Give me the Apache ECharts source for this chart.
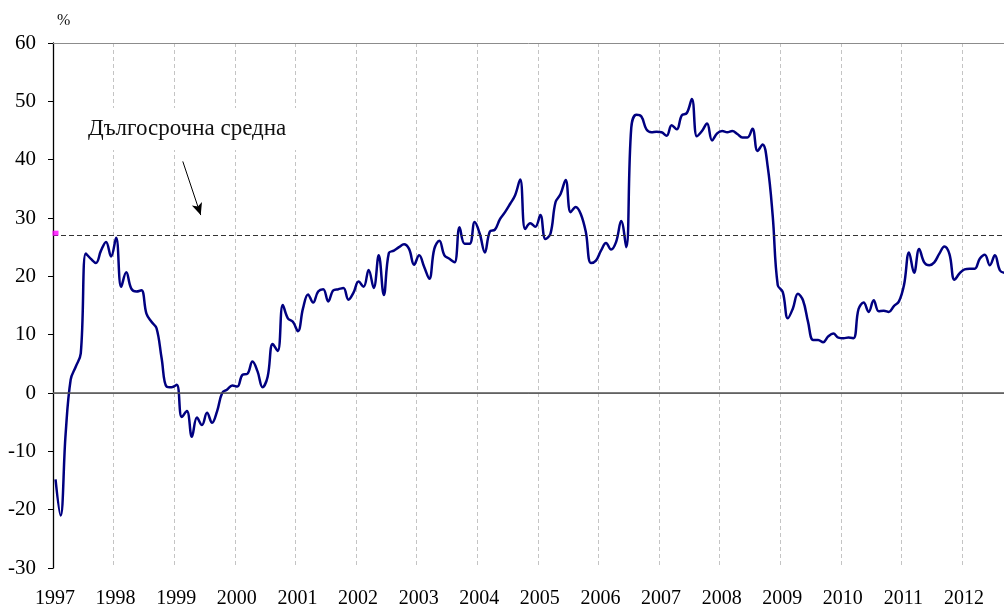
<!DOCTYPE html>
<html>
<head>
<meta charset="utf-8">
<script src="https://cdn.jsdelivr.net/npm/echarts@6/dist/echarts.min.js"></script>
<style>
html,body{margin:0;padding:0;background:#fff;}
#chart{width:1004px;height:609px;}
</style>
</head>
<body>
<div id="chart"></div>
<script>
// Year tick labels (one per January)
var yearLabels = ['1997','1998','1999','2000','2001','2002','2003','2004','2005','2006','2007','2008','2009','2010','2011','2012'];
// Monthly values from Jan 1997 onward (%)
var values = [
 -14.8,-21.0,-7.0,2.3,4.5,6.8,23.9,23.0,22.3,24.4,25.9,23.4,
 26.6,18.2,20.7,17.9,17.4,17.6,13.6,12.2,11.1,6.0,1.1,1.0,
 1.4,-4.1,-3.1,-7.5,-4.2,-5.5,-3.4,-5.1,-3.1,0.0,0.6,1.3,
 1.1,3.1,3.3,5.4,3.7,1.0,2.8,8.4,7.2,15.1,12.8,12.2,
 10.6,14.5,16.9,15.5,17.4,17.8,15.7,17.6,17.8,18.0,16.0,17.2,
 19.1,18.2,21.1,18.0,23.6,16.8,24.0,24.4,25.0,25.5,24.7,22.0,
 23.6,21.6,19.6,24.7,26.1,23.6,23.0,22.4,28.4,25.6,25.6,29.3,
 27.3,24.1,27.7,28.0,29.8,31.0,32.4,33.9,36.6,28.1,29.1,28.5,
 30.5,26.4,27.3,32.7,34.1,36.5,31.0,31.9,30.7,27.6,22.3,22.7,
 24.4,25.7,24.6,25.9,29.5,25.0,45.5,47.7,47.4,45.2,44.7,44.8,
 44.7,44.1,45.9,45.2,47.6,48.0,50.4,44.0,44.9,46.2,43.3,44.5,
 44.9,44.7,44.9,44.4,43.8,43.8,45.3,41.5,42.6,38.9,30.4,18.5,
 17.3,12.8,14.5,17.0,15.9,12.2,9.1,9.1,8.7,9.7,10.2,9.5,
 9.4,9.5,9.4,14.4,15.5,13.9,15.9,14.0,14.1,13.9,14.9,15.7,
 18.5,24.1,20.6,24.7,22.4,21.9,22.4,23.9,25.1,23.8,19.4,20.5,
 21.2,21.3,21.3,23.0,23.7,21.9,23.6,21.0,20.6
];
var longTermAverage = 27.0;
var startMarkerValue = 27.4;
var annotationText = 'Дългосрочна средна';
var unitLabel = '%';

var lineData = values.map(function(v, i){ return [i + 0.5, v]; });
var font = '"Liberation Serif","Times New Roman",serif';

var chart = echarts.init(document.getElementById('chart'), null, {renderer:'canvas'});
chart.setOption({
  animation: false,
  backgroundColor: '#fff',
  grid: {left: 53, top: 43, right: 0, bottom: 38, containLabel: false},
  xAxis: [{
    type: 'value', position: 'bottom', min: 0, max: 188.3, interval: 12,
    axisLine: {show: true, lineStyle: {color: '#8c8c8c', width: 1}},
    axisTick: {show: false},
    splitLine: {show: true, lineStyle: {color: '#c4c4c4', type: [4, 3], width: 1}},
    axisLabel: {
      show: true, margin: 21, color: '#000', fontFamily: font, fontSize: 20,
      showMaxLabel: false, padding: [0, 0, 0, 4],
      formatter: function(v){ var k = Math.round(v/12); return (Math.abs(v - k*12) < 0.01 && yearLabels[k]) ? yearLabels[k] : ''; }
    }
  }, {
    type: 'value', position: 'top', min: 0, max: 188.3,
    axisLine: {show: true, lineStyle: {color: '#8c8c8c', width: 1}},
    axisTick: {show: false}, axisLabel: {show: false}, splitLine: {show: false}
  }],
  yAxis: {
    type: 'value', min: -30, max: 60, interval: 10,
    axisLine: {show: true, onZero: false, lineStyle: {color: '#000', width: 1.3}},
    axisTick: {show: true, inside: false, length: 5, lineStyle: {color: '#000'}},
    splitLine: {show: false},
    axisLabel: {margin: 17, color: '#000', fontFamily: font, fontSize: 21, padding: [3, 0, 0, 0]}
  },
  graphic: [
    {type: 'rect', shape: {x: 78, y: 108, width: 222, height: 42}, style: {fill: '#fff'}, z: 5},
    {type: 'text', x: 88, y: 129, style: {text: annotationText, font: '23px ' + font, fill: '#111', textVerticalAlign: 'middle'}, z: 6},
    {type: 'text', x: 57, y: 13, style: {text: unitLabel, font: '16px ' + font, fill: '#111'}, z: 6}
  ],
  series: [{
    type: 'line',
    data: lineData,
    smooth: 0.4,
    showSymbol: false,
    symbol: 'none',
    lineStyle: {color: '#000080', width: 2.5},
    z: 4,
    markLine: {
      silent: true,
      symbol: 'none',
      label: {show: false},
      data: [
        {yAxis: 0, lineStyle: {color: '#555', width: 1.5, type: 'solid'}},
        {yAxis: longTermAverage, lineStyle: {color: '#333', width: 1.2, type: [5, 3]}},
        [{coord: [25.7, 39.7], symbol: 'none', lineStyle: {color: '#000', width: 1, type: 'solid'}},
         {coord: [29.25, 30.5], symbol: 'arrow', symbolSize: [8, 12]}]
      ]
    }
  }, {
    type: 'scatter',
    data: [[0.5, startMarkerValue]],
    symbol: 'rect',
    symbolSize: [6, 5],
    itemStyle: {color: '#ff00ff'},
    z: 6
  }]
});
</script>
</body>
</html>
